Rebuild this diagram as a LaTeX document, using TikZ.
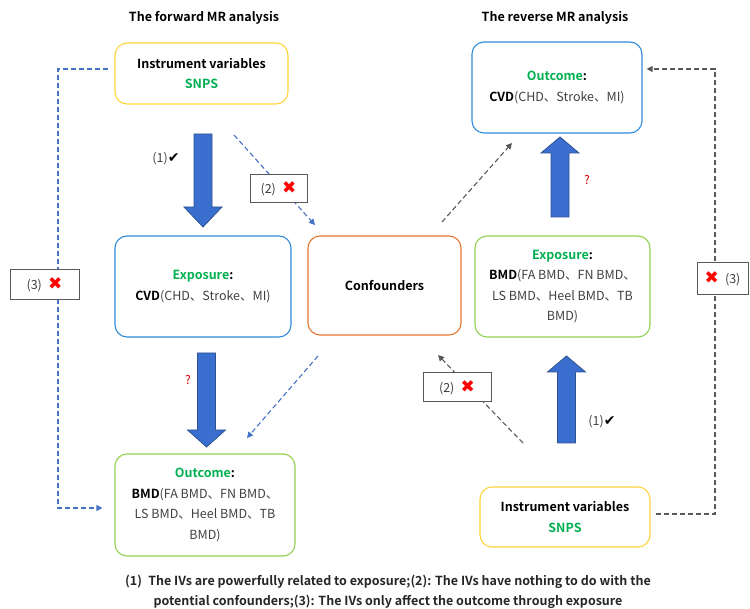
\documentclass[tikz,border=0pt]{standalone}
\usepackage{fontspec}
\setmainfont{Noto Sans CJK SC}[BoldFont={Noto Sans CJK SC Bold}]
\newfontfamily\symfont{DejaVu Sans}
\usetikzlibrary{arrows.meta}

\definecolor{ivyellow}{HTML}{FFD43B}
\definecolor{boxblue}{HTML}{2E8BDB}
\definecolor{boxgreen}{HTML}{92D050}
\definecolor{conforange}{HTML}{E2772E}
\definecolor{txtgreen}{HTML}{00B050}
\definecolor{txtgray}{HTML}{404040}
\definecolor{fatblue}{HTML}{3A6FD0}
\definecolor{fatedge}{HTML}{2F528F}
\definecolor{dashblue}{HTML}{4472C4}
\definecolor{dashgray}{HTML}{595959}

\newcommand{\fatarrow}[4]{\filldraw[fatarrowstyle] (#1-9,#2) -- (#1+9,#2) -- (#1+9,#3) -- (#1+19,#3) -- (#1,#4) -- (#1-19,#3) -- (#1-9,#3) -- cycle;}
\newcommand{\checkok}{{\symfont\fontsize{14}{14}\selectfont\color{black}✔}}
\newcommand{\crossno}{{\symfont\fontsize{17}{17}\selectfont\color{red}✖}}

\tikzset{
    mrbox/.style={draw, rounded corners=12pt, line width=1.1pt, align=center, text=txtgray},
    markbox/.style={draw=dashgray, fill=white, line width=1pt, text=txtgray, inner sep=0pt},
    fatarrowstyle/.style={fill=fatblue, draw=fatedge, line width=0.8pt},
    bluedash/.style={draw=dashblue, line width=1.1pt, dash pattern=on 5pt off 3pt},
    graydash/.style={draw=dashgray, line width=1.1pt, dash pattern=on 5pt off 3pt},
    tip/.style={-{Triangle[length=6pt,width=6pt]}},
    qmark/.style={text=red!85!black, font=\fontsize{12}{13}\selectfont}
}

\begin{document}
\begin{tikzpicture}[x=1pt,y=-1pt, font=\fontsize{12.5}{20.5}\selectfont]
                \useasboundingbox (0,0) rectangle (750,609);

                \node[font=\fontsize{12.5}{14}\selectfont\bfseries] (titleF) at (204,18) {The forward MR analysis};
                \node[font=\fontsize{12.5}{14}\selectfont\bfseries] (titleR) at (555,18) {The reverse MR analysis};

                \node[mrbox, draw=ivyellow, minimum width=173, minimum height=61] (ivF) at (201.5,73.5)
                    {\textcolor{black}{\bfseries Instrument variables}\\\textcolor{txtgreen}{\bfseries SNPS}};
                \node[mrbox, draw=boxblue, minimum width=176, minimum height=101] (expF) at (203,286.5)
                    {\textcolor{txtgreen}{\bfseries Exposure}\textcolor{black}{\bfseries :}\\\textcolor{black}{\bfseries CVD}(CHD、Stroke、MI)};
                \node[mrbox, draw=conforange, minimum width=153, minimum height=99] (conf) at (384.5,285.5)
                    {\textcolor{black}{\bfseries Confounders}};
                \node[mrbox, draw=boxgreen, minimum width=180, minimum height=102] (outF) at (205,505)
                    {\textcolor{txtgreen}{\bfseries Outcome}\textcolor{black}{\bfseries :}\\\textcolor{black}{\bfseries BMD}(FA BMD、FN BMD、\\LS BMD、Heel BMD、TB\\BMD)};

                \node[mrbox, draw=boxblue, minimum width=170, minimum height=91] (outR) at (557,87.5)
                    {\textcolor{txtgreen}{\bfseries Outcome}\textcolor{black}{\bfseries :}\\\textcolor{black}{\bfseries CVD}(CHD、Stroke、MI)};
                \node[mrbox, draw=boxgreen, minimum width=175, minimum height=101] (expR) at (562.5,286.5)
                    {\textcolor{txtgreen}{\bfseries Exposure}\textcolor{black}{\bfseries :}\\\textcolor{black}{\bfseries BMD}(FA BMD、FN BMD、\\LS BMD、Heel BMD、TB\\BMD)};
                \node[mrbox, draw=ivyellow, minimum width=170, minimum height=60] (ivR) at (565,517)
                    {\textcolor{black}{\bfseries Instrument variables}\\\textcolor{txtgreen}{\bfseries SNPS}};

                \fatarrow{203}{134}{207}{227}
                \fatarrow{206.5}{353}{430}{447}
                \fatarrow{560}{217}{153}{137}
                \fatarrow{566.5}{443}{372}{356}

                \node[text=txtgray] (q1) at (166,159) {(1)\checkok};
                \node[qmark] (q2) at (188,380) {?};
                \node[qmark] (q3) at (587,180) {?};
                \node[text=txtgray] (q4) at (602,422) {(1)\checkok};

                \coordinate (a1) at (234,135);
                \coordinate (a2) at (315,225);
                \coordinate (b1) at (318,356);
                \coordinate (b2) at (247,438);
                \coordinate (c1) at (442,222);
                \coordinate (c2) at (512,143);
                \coordinate (d1) at (523,443);
                \coordinate (d2) at (438,355);

                \draw[bluedash, tip, dashblue] (a1) -- (a2);
                \draw[bluedash, tip, dashblue] (b1) -- (b2);
                \draw[graydash, tip, dashgray] (c1) -- (c2);
                \draw[graydash, tip, dashgray] (d1) -- (d2);

                \draw[bluedash, tip, dashblue] ([xshift=-6pt]ivF.west |- 0,69) -- (58,69) -- (58,508) -- ([xshift=-12pt]outF.west |- 0,508);
                \draw[graydash, tip, dashgray] ([xshift=5pt]ivR.east |- 0,514) -- (715,514) -- (715,69) -- ([xshift=4pt]outR.east |- 0,69);

                \node[markbox, minimum width=57, minimum height=28] (m2F) at (278.5,189) {(2)\enspace\crossno};
                \node[markbox, minimum width=69, minimum height=30] (m3F) at (44.5,285) {(3)\enspace\crossno};
                \node[markbox, minimum width=68, minimum height=29] (m2R) at (457,387.5) {(2)\enspace\crossno};
                \node[markbox, minimum width=51, minimum height=32] (m3R) at (722.5,279) {\crossno\enspace(3)};

                \node[align=center, font=\fontsize{12.5}{20}\selectfont\bfseries, text=black!85] (note) at (388,592)
                    {(1)\enspace The IVs are powerfully related to exposure;(2): The IVs have nothing to do with the\\potential confounders;(3): The IVs only affect the outcome through exposure};
            \end{tikzpicture}
\end{document}
